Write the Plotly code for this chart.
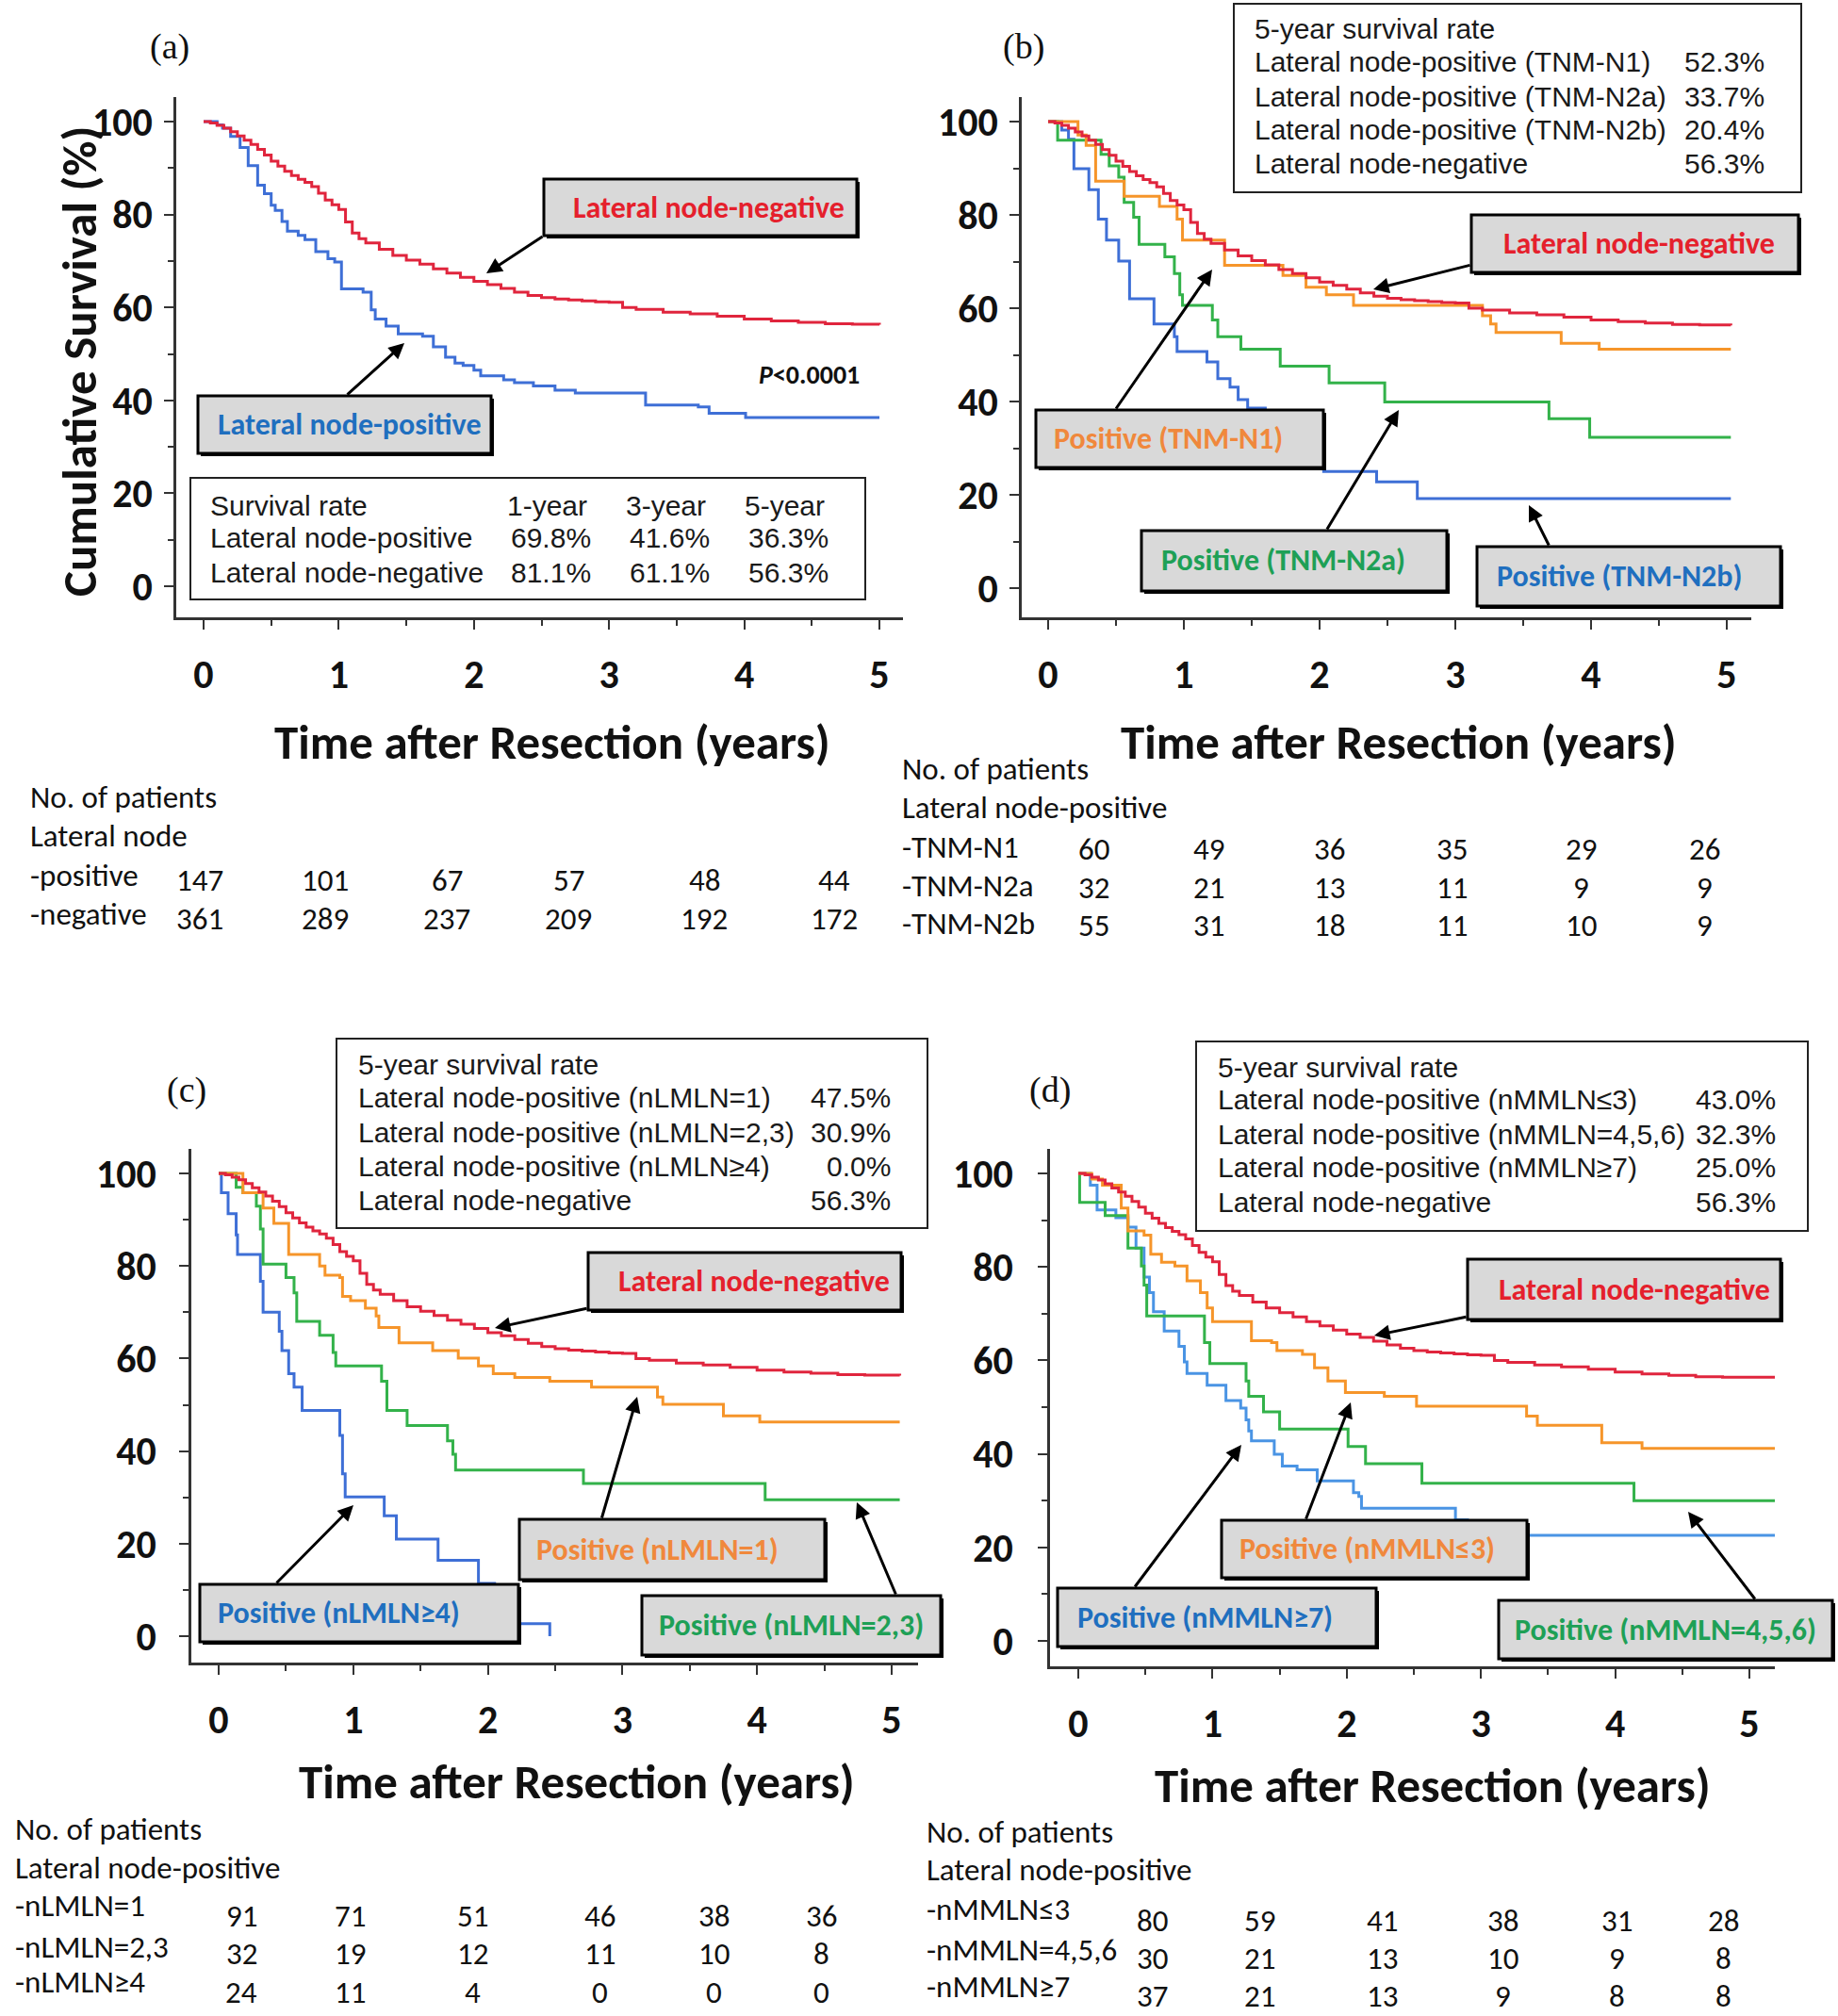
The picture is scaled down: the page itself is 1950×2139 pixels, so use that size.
import plotly.graph_objects as go

W, H = 1950, 2139

# -----------------------------
# Survival curves (time in years, survival in %)
# -----------------------------
# lateral node-negative, the same group in every panel
neg_t = [0, 0.05, 0.1, 0.15, 0.2, 0.25, 0.3, 0.35, 0.4, 0.45, 0.5, 0.55, 0.6, 0.65, 0.7, 0.75,
         0.8, 0.85, 0.9, 0.95, 1.0, 1.05, 1.1, 1.15, 1.2, 1.3, 1.4, 1.5, 1.6, 1.7, 1.8, 1.9,
         2.0, 2.1, 2.2, 2.3, 2.4, 2.5, 2.6, 2.7, 2.8, 2.9, 3.0, 3.1, 3.2, 3.4, 3.6, 3.8,
         4.0, 4.2, 4.4, 4.6, 4.8]
neg_s = [100, 99.7, 99.2, 98.6, 97.8, 96.9, 96.0, 95.1, 94.0, 92.8, 91.5, 90.4, 89.3, 88.4, 87.6, 86.9,
         86.0, 84.6, 83.1, 82.1, 81.1, 78.4, 76.0, 74.8, 73.9, 72.5, 71.2, 70.2, 69.3, 68.3, 67.4, 66.5,
         65.6, 64.9, 64.1, 63.3, 62.6, 62.1, 61.8, 61.6, 61.4, 61.2, 61.1, 60.0, 59.6, 59.0, 58.6, 58.1,
         57.5, 57.1, 56.8, 56.5, 56.4]

# (a) lateral node-positive
a_pos_t = [0, 0.10, 0.14, 0.20, 0.27, 0.33, 0.40, 0.45, 0.50, 0.53, 0.58, 0.62, 0.70, 0.75, 0.83,
           0.92, 0.97, 1.02, 1.18, 1.24, 1.27, 1.35, 1.44, 1.62, 1.70, 1.79, 1.86, 1.92, 2.00, 2.05,
           2.22, 2.30, 2.44, 2.60, 2.75, 3.27, 3.66, 3.74, 4.01, 5.00]
a_pos_s = [100, 99.3, 98.6, 96.8, 94.4, 90.5, 86.3, 84.5, 82.0, 80.9, 78.5, 76.4, 75.5, 74.6, 72.0,
           70.5, 69.8, 64.0, 63.3, 59.5, 57.5, 56.0, 54.3, 53.8, 51.5, 49.3, 48.0, 47.5, 46.5, 45.3,
           44.4, 43.8, 43.1, 42.2, 41.6, 39.0, 38.6, 37.2, 36.3, 36.3]

# (b) TNM-N1 / N2a / N2b
b_n1_t = [0, 0.22, 0.28, 0.35, 0.56, 0.82, 0.95, 0.99, 1.30, 1.73, 1.90, 2.05, 2.25, 3.20, 3.26,
          3.30, 3.78, 4.06, 5.03]
b_n1_s = [100, 97.1, 94.9, 87.2, 84.0, 81.8, 79.1, 74.6, 69.2, 67.0, 64.5, 62.9, 60.6, 58.4, 56.6,
          54.8, 52.5, 51.2, 51.2]
b_n2a_t = [0, 0.07, 0.39, 0.45, 0.52, 0.56, 0.63, 0.67, 0.86, 0.93, 0.97, 0.99, 1.21, 1.25, 1.42,
           1.71, 2.07, 2.48, 3.69, 3.99, 5.03]
b_n2a_s = [100, 96.0, 93.0, 90.5, 88.1, 82.7, 79.5, 73.7, 71.0, 67.4, 62.9, 60.6, 57.5, 53.9, 51.2,
           47.6, 44.0, 39.9, 36.3, 32.3, 32.3]
b_n2b_t = [0, 0.10, 0.15, 0.19, 0.30, 0.37, 0.43, 0.52, 0.60, 0.78, 0.93, 0.95, 1.17, 1.25, 1.34,
           1.40, 1.47, 1.60, 1.75, 1.90, 2.03, 2.42, 2.72, 5.03]
b_n2b_s = [100, 98.2, 96.2, 89.9, 85.4, 79.1, 74.6, 70.1, 62.0, 56.6, 53.9, 50.7, 48.5, 44.9, 43.1,
           40.4, 38.6, 35.0, 31.0, 28.0, 25.0, 22.8, 19.2, 19.2]

# (c) nLMLN = 1 / 2,3 / >=4
c_1_t = [0, 0.18, 0.33, 0.41, 0.52, 0.75, 0.79, 0.90, 0.92, 0.98, 1.09, 1.17, 1.19, 1.34, 1.59,
         1.78, 1.93, 2.04, 2.20, 2.46, 2.77, 3.26, 3.30, 3.75, 4.02, 5.06]
c_1_s = [100, 95.8, 92.5, 89.2, 82.5, 80.0, 78.0, 77.5, 73.4, 72.5, 70.9, 69.2, 66.7, 63.4, 61.7,
         60.1, 58.4, 56.7, 55.9, 55.1, 53.8, 51.7, 50.1, 47.6, 46.3, 46.3]
c_23_t = [0, 0.13, 0.18, 0.28, 0.31, 0.33, 0.50, 0.56, 0.58, 0.75, 0.85, 0.87, 1.21, 1.25, 1.40,
          1.70, 1.74, 1.76, 2.71, 4.06, 5.06]
c_23_s = [100, 97.0, 95.8, 92.9, 88.0, 80.4, 77.5, 74.2, 68.0, 65.0, 61.3, 58.4, 55.1, 48.8, 45.5,
          42.2, 39.3, 35.9, 33.0, 29.5, 29.5]
c_4_t = [0, 0.02, 0.07, 0.13, 0.14, 0.31, 0.33, 0.45, 0.47, 0.52, 0.56, 0.62, 0.90, 0.92, 0.94,
         1.23, 1.32, 1.63, 1.93, 2.05, 2.15, 2.46]
c_4_s = [100, 95.8, 91.3, 86.7, 82.5, 76.7, 70.0, 65.9, 61.7, 56.7, 53.8, 48.8, 43.4, 35.1, 30.1,
         26.0, 21.0, 16.4, 11.4, 7.0, 2.7, 0]

# (d) nMMLN <=3 / 4,5,6 / >=7
d_3_t = [0, 0.10, 0.18, 0.32, 0.37, 0.49, 0.54, 0.62, 0.72, 0.81, 0.91, 0.96, 1.00, 1.29, 1.44,
         1.48, 1.67, 1.76, 1.86, 1.99, 2.28, 2.52, 3.34, 3.42, 3.90, 4.20, 5.23]
d_3_s = [100, 98.8, 97.5, 92.6, 87.7, 86.8, 82.7, 81.0, 80.2, 77.0, 74.5, 71.2, 68.3, 64.2, 63.8,
         62.1, 61.3, 58.4, 55.6, 53.1, 52.3, 50.2, 48.1, 46.1, 42.4, 41.2, 41.2]
d_456_t = [0, 0.01, 0.20, 0.37, 0.47, 0.49, 0.51, 0.94, 0.98, 1.25, 1.27, 1.38, 1.50, 2.01, 2.14,
           2.56, 4.14, 5.23]
d_456_s = [100, 93.8, 91.0, 84.0, 80.2, 76.1, 69.5, 63.8, 59.3, 55.6, 52.3, 49.0, 45.3, 41.6, 37.9,
           33.7, 30.0, 30.0]
d_7_t = [0, 0.09, 0.14, 0.28, 0.37, 0.43, 0.49, 0.53, 0.56, 0.64, 0.75, 0.79, 0.81, 0.96, 1.10,
         1.21, 1.25, 1.27, 1.29, 1.46, 1.52, 1.63, 1.78, 2.05, 2.09, 2.11, 2.81, 2.90, 5.23]
d_7_s = [100, 97.5, 92.2, 90.5, 88.5, 84.0, 77.8, 74.5, 70.4, 66.3, 63.0, 59.7, 57.2, 54.7, 51.4,
         49.8, 47.3, 44.9, 42.8, 39.9, 37.4, 36.6, 34.2, 31.7, 30.9, 28.4, 25.9, 22.6, 22.6]

# -----------------------------
# Survival rate tables
# -----------------------------
a_rate_head = ["1-year", "3-year", "5-year"]
a_rate_rows = ["Lateral node-positive", "Lateral node-negative"]
a_rate_vals = [["69.8%", "41.6%", "36.3%"], ["81.1%", "61.1%", "56.3%"]]

b_rate_rows = ["Lateral node-positive (TNM-N1)", "Lateral node-positive (TNM-N2a)",
               "Lateral node-positive (TNM-N2b)", "Lateral node-negative"]
b_rate_vals = ["52.3%", "33.7%", "20.4%", "56.3%"]
c_rate_rows = ["Lateral node-positive (nLMLN=1)", "Lateral node-positive (nLMLN=2,3)",
               "Lateral node-positive (nLMLN≥4)", "Lateral node-negative"]
c_rate_vals = ["47.5%", "30.9%", "0.0%", "56.3%"]
d_rate_rows = ["Lateral node-positive (nMMLN≤3)", "Lateral node-positive (nMMLN=4,5,6)",
               "Lateral node-positive (nMMLN≥7)", "Lateral node-negative"]
d_rate_vals = ["43.0%", "32.3%", "25.0%", "56.3%"]

# -----------------------------
# Numbers at risk (0..5 years)
# -----------------------------
a_risk_rows = ["-positive", "-negative"]
a_risk = [[147, 101, 67, 57, 48, 44], [361, 289, 237, 209, 192, 172]]
b_risk_rows = ["-TNM-N1", "-TNM-N2a", "-TNM-N2b"]
b_risk = [[60, 49, 36, 35, 29, 26], [32, 21, 13, 11, 9, 9], [55, 31, 18, 11, 10, 9]]
c_risk_rows = ["-nLMLN=1", "-nLMLN=2,3", "-nLMLN≥4"]
c_risk = [[91, 71, 51, 46, 38, 36], [32, 19, 12, 11, 10, 8], [24, 11, 4, 0, 0, 0]]
d_risk_rows = ["-nMMLN≤3", "-nMMLN=4,5,6", "-nMMLN≥7"]
d_risk = [[80, 59, 41, 38, 31, 28], [30, 21, 13, 10, 9, 8], [37, 21, 13, 9, 8, 8]]

# -----------------------------
# Styles
# -----------------------------
RED, BLUE, ORANGE, GREEN = "#e0253d", "#3e6fd6", "#f6952a", "#33b24a"
BLUE_D = "#4a94e4"
T_RED, T_BLUE, T_ORANGE, T_GREEN = "#e5202c", "#1f6fbf", "#f0883c", "#1ea056"
BOLD = "Carlito, Lato, sans-serif"
PLAIN = "Liberation Sans, Arial, sans-serif"
SERIF = "Liberation Serif, Times New Roman, serif"
TITLE_SIZE = 51
TICK_SIZE = 42
LABEL_SIZE = 32
RATE_SIZE = 30
RISK_SIZE = 33


def X(p):
    return p / W


def Y(p):
    return 1 - p / H


fig = go.Figure()
shapes = []
notes = []

# panel geometry in pixels
panels = [
    dict(n="", x0=216, x5=933, left=187, right=958, y100=129, y0=622, top=103, bot=655, stand=4),
    dict(n="2", x0=1112, x5=1832, left=1084, right=1858, y100=129, y0=624, top=103, bot=655, stand=4),
    dict(n="3", x0=232, x5=946, left=203, right=974, y100=1245, y0=1736, top=1219, bot=1764, stand=16),
    dict(n="4", x0=1144, x5=1856, left=1114, right=1883, y100=1245, y0=1741, top=1219, bot=1768, stand=18),
]

for p in panels:
    kx = (p["x5"] - p["x0"]) / 5
    ky = (p["y0"] - p["y100"]) / 100
    common = dict(showline=True, linecolor="#333", linewidth=2.5, showgrid=False, zeroline=False,
                  ticks="outside", ticklen=10, tickwidth=2, tickcolor="#333",
                  tickfont=dict(family=BOLD, size=TICK_SIZE, color="#111", weight="bold"))
    fig.layout["xaxis" + p["n"]] = dict(
        domain=[X(p["left"]), X(p["right"])],
        range=[(p["left"] - p["x0"]) / kx, (p["right"] - p["x0"]) / kx],
        tick0=0, dtick=1, anchor="y" + p["n"], ticklabelstandoff=12,
        minor=dict(dtick=0.5, tick0=0, ticks="outside", ticklen=6, tickwidth=2, tickcolor="#333"),
        **common)
    fig.layout["yaxis" + p["n"]] = dict(
        domain=[Y(p["bot"]), Y(p["top"])],
        range=[(p["y0"] - p["bot"]) / ky, (p["y0"] - p["top"]) / ky],
        tick0=0, dtick=20, anchor="x" + p["n"], ticklabelstandoff=p["stand"],
        minor=dict(dtick=10, tick0=0, ticks="outside", ticklen=6, tickwidth=2, tickcolor="#333"),
        **common)


def curve(t, s, color, n, end=None):
    tt, ss = list(t), list(s)
    if end is not None:
        tt.append(end)
        ss.append(ss[-1])
    fig.add_trace(go.Scatter(x=tt, y=ss, mode="lines", line=dict(color=color, width=3, shape="hv"),
                             xaxis="x" + n, yaxis="y" + n, showlegend=False, hoverinfo="skip"))


curve(a_pos_t, a_pos_s, BLUE, "")
curve(neg_t + [5.0], neg_s + [56.3], RED, "")

curve(b_n2b_t, b_n2b_s, BLUE, "2")
curve(b_n2a_t, b_n2a_s, GREEN, "2")
curve(b_n1_t, b_n1_s, ORANGE, "2")
curve(neg_t + [5.03], neg_s + [56.3], RED, "2")

curve(c_4_t, c_4_s, BLUE, "3")
curve(c_23_t, c_23_s, GREEN, "3")
curve(c_1_t, c_1_s, ORANGE, "3")
curve(neg_t + [5.06], neg_s + [56.3], RED, "3")

curve(d_7_t, d_7_s, BLUE_D, "4")
curve(d_456_t, d_456_s, GREEN, "4")
curve(d_3_t, d_3_s, ORANGE, "4")
curve(neg_t + [5.23], neg_s + [56.3], RED, "4")


def text(x, y, s, size=RATE_SIZE, family=PLAIN, color="#1a1a1a", xanchor="left", **kw):
    notes.append(dict(x=X(x), y=Y(y), xref="paper", yref="paper", text=s, showarrow=False,
                      xanchor=xanchor, yanchor="middle", font=dict(family=family, size=size, color=color), **kw))


def label_box(x0, y0, x1, y1, s, color, tx=None):
    shapes.append(dict(type="rect", xref="paper", yref="paper", x0=X(x0 + 3), x1=X(x1 + 3),
                       y0=Y(y0 + 3), y1=Y(y1 + 3), fillcolor="black", line=dict(width=0), layer="above"))
    shapes.append(dict(type="rect", xref="paper", yref="paper", x0=X(x0), x1=X(x1), y0=Y(y0), y1=Y(y1),
                       fillcolor="#d9d9d9", line=dict(color="black", width=3), layer="above"))
    text((x0 + x1) / 2 if tx is None else tx, (y0 + y1) / 2, "<b>" + s + "</b>", size=LABEL_SIZE,
         family=BOLD, color=color, xanchor="center")


def arrow(tx, ty, hx, hy):
    notes.append(dict(x=X(hx), y=Y(hy), xref="paper", yref="paper", text="", showarrow=True,
                      ax=tx - hx, ay=ty - hy, arrowhead=2, arrowsize=1.1, arrowwidth=3,
                      arrowcolor="black", standoff=0, startstandoff=0))


def plain_box(x0, y0, x1, y1):
    shapes.append(dict(type="rect", xref="paper", yref="paper", x0=X(x0), x1=X(x1), y0=Y(y0), y1=Y(y1),
                       fillcolor="white", line=dict(color="#222", width=2), layer="above"))


def rate_box(box, left, right, rows_y, rows, vals):
    plain_box(*box)
    text(left, rows_y[0], "5-year survival rate")
    for yy, r, v in zip(rows_y[1:], rows, vals):
        text(left, yy, r)
        text(right, yy, v, xanchor="right")


def risk_table(x, head_y, heads, label_y, labels, num_y, nums, cols):
    for yy, h in zip(head_y, heads):
        text(x, yy, h, size=RISK_SIZE, family=BOLD, color="#111")
    for yy, lab in zip(label_y, labels):
        text(x, yy, lab, size=RISK_SIZE, family=BOLD, color="#111")
    for yy, row in zip(num_y, nums):
        for cx, v in zip(cols, row):
            text(cx, yy, str(v), size=RISK_SIZE, family=BOLD, color="#111", xanchor="center")


def x_title(x, y):
    text(x, y, "<b>Time after Resection (years)</b>", size=TITLE_SIZE, family=BOLD, color="#111",
         xanchor="center")


# ----- panel (a) -----
text(180, 49, "(a)", size=38, family=SERIF, color="#111", xanchor="center")
notes.append(dict(x=X(84), y=Y(384), xref="paper", yref="paper", text="<b>Cumulative Survival (%)</b>",
                  showarrow=False, textangle=-90, xanchor="center", yanchor="middle",
                  font=dict(family=BOLD, size=TITLE_SIZE, color="#111")))
x_title(586, 788)
label_box(577, 190, 909, 250, "Lateral node-negative", T_RED, tx=752)
arrow(577, 250, 516, 290)
label_box(210, 420, 521, 481, "Lateral node-positive", T_BLUE, tx=371)
arrow(367, 420, 429, 364)
text(858, 397, "<b><i>P</i>&lt;0.0001</b>", size=28, family=BOLD, color="#111", xanchor="center")
plain_box(202, 507, 918, 636)
text(221, 536, "Survival rate")
for cx, h in zip([580, 706, 832], a_rate_head):
    text(cx, 536, h, xanchor="center")
for yy, r, vals in zip([571, 607], a_rate_rows, a_rate_vals):
    text(221, yy, r)
    for cx, v in zip([584, 710, 836], vals):
        text(cx, yy, v, xanchor="center")
risk_table(30, [846, 887], ["No. of patients", "Lateral node"], [929, 970], a_risk_rows,
           [934, 975], a_risk, [212, 345, 474, 603, 747, 885])

# ----- panel (b) -----
text(1086, 49, "(b)", size=38, family=SERIF, color="#111", xanchor="center")
x_title(1484, 788)
rate_box((1309, 4, 1911, 204), 1329, 1874, [31, 66, 102, 137, 173], b_rate_rows, b_rate_vals)
label_box(1561, 228, 1908, 289, "Lateral node-negative", T_RED, tx=1739)
arrow(1561, 281, 1457, 307)
label_box(1099, 435, 1404, 496, "Positive (TNM-N1)", T_ORANGE, tx=1239)
arrow(1183, 435, 1286, 286)
label_box(1211, 563, 1535, 627, "Positive (TNM-N2a)", T_GREEN, tx=1361)
arrow(1407, 563, 1484, 435)
label_box(1567, 580, 1889, 643, "Positive (TNM-N2b)", T_BLUE, tx=1718)
arrow(1644, 580, 1622, 536)
risk_table(955, [816, 857], ["No. of patients", "Lateral node-positive"], [899, 940, 980], b_risk_rows,
           [901, 942, 982], b_risk, [1160, 1282, 1410, 1540, 1677, 1808])

# ----- panel (c) -----
text(198, 1156, "(c)", size=38, family=SERIF, color="#111", xanchor="center")
x_title(612, 1890)
rate_box((357, 1102, 984, 1303), 378, 947, [1129, 1164, 1201, 1237, 1273], c_rate_rows, c_rate_vals)
label_box(624, 1329, 956, 1390, "Lateral node-negative", T_RED, tx=800)
arrow(624, 1388, 525, 1409)
label_box(551, 1612, 875, 1676, "Positive (nLMLN=1)", T_ORANGE, tx=697)
arrow(638, 1612, 676, 1482)
label_box(212, 1681, 550, 1742, "Positive (nLMLN≥4)", T_BLUE, tx=359)
arrow(292, 1681, 375, 1597)
label_box(681, 1693, 998, 1756, "Positive (nLMLN=2,3)", T_GREEN, tx=839)
arrow(951, 1693, 909, 1594)
risk_table(14, [1941, 1982], ["No. of patients", "Lateral node-positive"], [2022, 2066, 2103], c_risk_rows,
           [2033, 2073, 2114], c_risk, [256, 371, 501, 636, 757, 871])

# ----- panel (d) -----
text(1114, 1156, "(d)", size=38, family=SERIF, color="#111", xanchor="center")
x_title(1520, 1894)
rate_box((1269, 1105, 1918, 1306), 1290, 1886, [1132, 1166, 1203, 1238, 1275], d_rate_rows, d_rate_vals)
label_box(1557, 1336, 1889, 1400, "Lateral node-negative", T_RED, tx=1734)
arrow(1557, 1397, 1458, 1417)
label_box(1296, 1613, 1620, 1674, "Positive (nMMLN≤3)", T_ORANGE, tx=1450)
arrow(1385, 1613, 1433, 1488)
label_box(1122, 1685, 1460, 1747, "Positive (nMMLN≥7)", T_BLUE, tx=1278)
arrow(1203, 1685, 1317, 1533)
label_box(1590, 1698, 1944, 1760, "Positive (nMMLN=4,5,6)", T_GREEN, tx=1767)
arrow(1863, 1698, 1791, 1604)
risk_table(981, [1944, 1984], ["No. of patients", "Lateral node-positive"], [2026, 2069, 2108], d_risk_rows,
           [2038, 2078, 2118], d_risk, [1222, 1336, 1466, 1594, 1715, 1828])

fig.update_layout(width=W, height=H, margin=dict(l=0, r=0, t=0, b=0),
                  paper_bgcolor="white", plot_bgcolor="white", showlegend=False,
                  shapes=shapes, annotations=notes)

# the page has a default 8px body margin; drop it so the figure sits at the window origin
fig.write_html("out.html", config={"displayModeBar": False},
               post_script="document.body.style.margin='0px';")
